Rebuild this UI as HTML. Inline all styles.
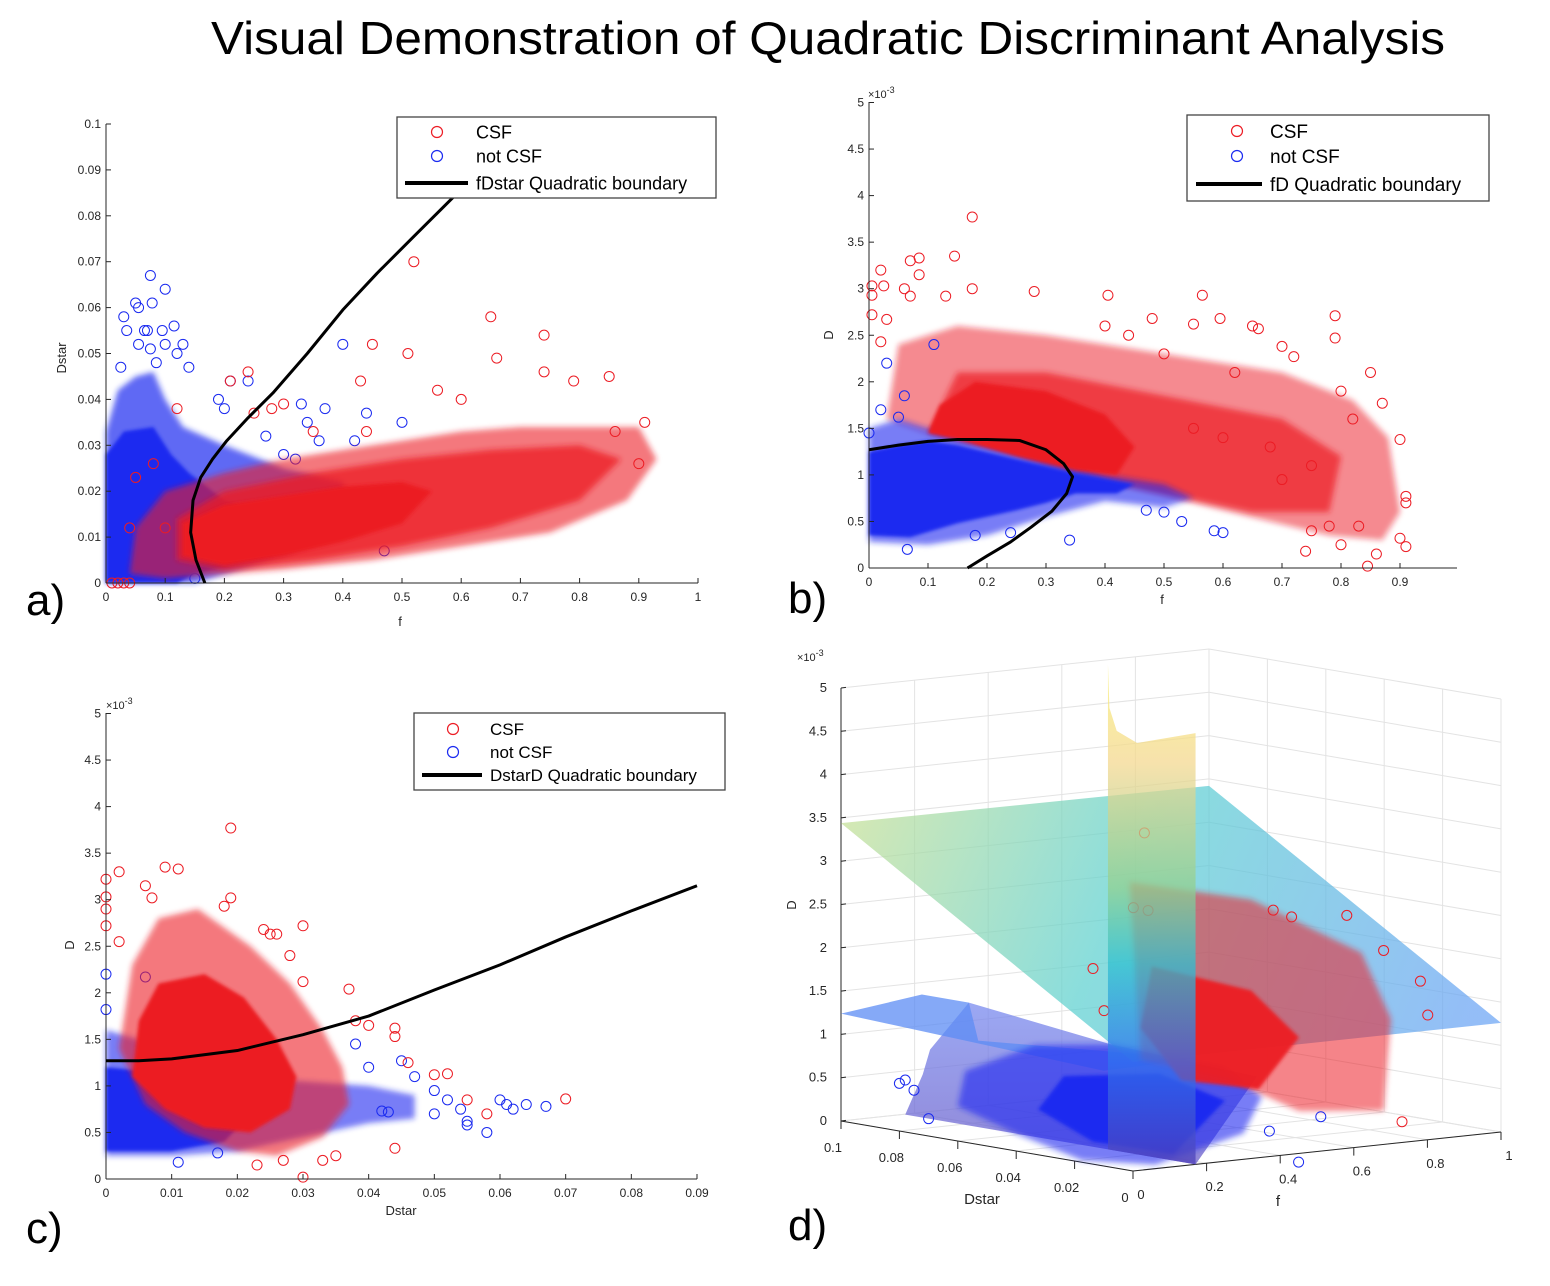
<!DOCTYPE html>
<html><head><meta charset="utf-8">
<style>
html,body{margin:0;padding:0;background:#fff;}
svg{display:block;font-family:"Liberation Sans",Arial,sans-serif;}
</style></head>
<body>
<svg id="fig" width="1550" height="1286" viewBox="0 0 1550 1286" xmlns="http://www.w3.org/2000/svg">
<defs>
<filter id="soft" x="-10%" y="-10%" width="120%" height="120%"><feGaussianBlur stdDeviation="3"/></filter>
<filter id="soft2" x="-10%" y="-10%" width="120%" height="120%"><feGaussianBlur stdDeviation="1.5"/></filter>
<linearGradient id="planeGrad" gradientUnits="userSpaceOnUse" x1="841" y1="800" x2="1450" y2="1060">
<stop offset="0" stop-color="#c8e094"/><stop offset="0.45" stop-color="#5cd0d0"/><stop offset="1" stop-color="#6aa4f4"/>
</linearGradient>
<linearGradient id="sheetGrad" gradientUnits="userSpaceOnUse" x1="0" y1="662" x2="0" y2="1165">
<stop offset="0" stop-color="#f8f070"/><stop offset="0.2" stop-color="#f4d890"/><stop offset="0.45" stop-color="#90d090"/><stop offset="0.6" stop-color="#30c0d0"/><stop offset="0.8" stop-color="#3070f0"/><stop offset="1" stop-color="#5040b8"/>
</linearGradient>
<linearGradient id="purpleGrad" gradientUnits="userSpaceOnUse" x1="0" y1="1000" x2="0" y2="1170">
<stop offset="0" stop-color="#7a8cf0"/><stop offset="1" stop-color="#6a5cc8"/>
</linearGradient>
</defs>
<text x="828" y="54" font-size="46" text-anchor="middle" textLength="1234" lengthAdjust="spacingAndGlyphs" fill="#000">Visual Demonstration of Quadratic Discriminant Analysis</text>
<text x="26" y="615" font-size="44" fill="#000">a)</text>
<text x="788" y="613" font-size="44" fill="#000">b)</text>
<text x="26" y="1243" font-size="44" fill="#000">c)</text>
<text x="788" y="1240" font-size="44" fill="#000">d)</text>
<g id="pa"></g>
<g id="pb"></g>
<g id="pc"></g>
<g id="pd"></g>
</svg>
<script>
// ---------------- Panel a data (f, Dstar) ----------------
const aXTicks = [0,0.1,0.2,0.3,0.4,0.5,0.6,0.7,0.8,0.9,1];
const aXTickLabels = ["0","0.1","0.2","0.3","0.4","0.5","0.6","0.7","0.8","0.9","1"];
const aYTicks = [0,0.01,0.02,0.03,0.04,0.05,0.06,0.07,0.08,0.09,0.1];
const aYTickLabels = ["0","0.01","0.02","0.03","0.04","0.05","0.06","0.07","0.08","0.09","0.1"];
const aBlueOuter = [[0,0],[0,0.033],[0.02,0.042],[0.05,0.045],[0.08,0.046],[0.1,0.04],[0.13,0.034],[0.2,0.03],[0.3,0.025],[0.4,0.022],[0.42,0.012],[0.3,0.006],[0.2,0.002],[0.15,0]];
const aBlueCore = [[0,0],[0,0.028],[0.03,0.033],[0.08,0.034],[0.11,0.028],[0.14,0.024],[0.2,0.018],[0.3,0.013],[0.28,0.006],[0.15,0.002],[0.12,0]];
const aRedOuter = [[0.04,0.002],[0.05,0.012],[0.1,0.02],[0.2,0.024],[0.3,0.027],[0.4,0.029],[0.5,0.031],[0.6,0.033],[0.7,0.034],[0.8,0.034],[0.9,0.034],[0.93,0.027],[0.88,0.018],[0.75,0.011],[0.6,0.008],[0.45,0.005],[0.3,0.003],[0.2,0.002],[0.1,0.001]];
const aRedMid = [[0.12,0.005],[0.12,0.014],[0.2,0.02],[0.35,0.024],[0.5,0.027],[0.65,0.029],[0.8,0.03],[0.87,0.027],[0.8,0.018],[0.65,0.012],[0.5,0.008],[0.35,0.005],[0.2,0.003]];
const aRedCore = [[0.13,0.006],[0.13,0.013],[0.2,0.017],[0.3,0.019],[0.4,0.021],[0.5,0.022],[0.55,0.02],[0.5,0.013],[0.4,0.009],[0.3,0.006],[0.2,0.004]];
const aBluePts = [[0.075,0.067],[0.1,0.064],[0.05,0.061],[0.078,0.061],[0.03,0.058],[0.055,0.06],[0.035,0.055],[0.065,0.055],[0.07,0.055],[0.095,0.055],[0.115,0.056],[0.055,0.052],[0.075,0.051],[0.1,0.052],[0.13,0.052],[0.12,0.05],[0.14,0.047],[0.025,0.047],[0.085,0.048],[0.4,0.052],[0.21,0.044],[0.24,0.044],[0.19,0.04],[0.2,0.038],[0.33,0.039],[0.37,0.038],[0.44,0.037],[0.5,0.035],[0.34,0.035],[0.36,0.031],[0.42,0.031],[0.27,0.032],[0.3,0.028],[0.32,0.027],[0.47,0.007],[0.15,0.001]];
const aRedPts = [[0.52,0.07],[0.65,0.058],[0.74,0.054],[0.45,0.052],[0.51,0.05],[0.66,0.049],[0.43,0.044],[0.74,0.046],[0.79,0.044],[0.85,0.045],[0.56,0.042],[0.6,0.04],[0.21,0.044],[0.24,0.046],[0.28,0.038],[0.3,0.039],[0.25,0.037],[0.35,0.033],[0.44,0.033],[0.91,0.035],[0.86,0.033],[0.9,0.026],[0.01,0],[0.02,0],[0.03,0],[0.04,0],[0.12,0.038],[0.08,0.026],[0.05,0.023],[0.1,0.012],[0.04,0.012]];
const aBoundary = [[0.167,0],[0.152,0.005],[0.143,0.011],[0.147,0.018],[0.16,0.023],[0.18,0.027],[0.204,0.031],[0.24,0.036],[0.282,0.0414],[0.34,0.05],[0.4,0.0595],[0.458,0.0675],[0.52,0.0755],[0.59,0.0845]];

// ---------------- Panel b data (f, D x1e-3) ----------------
const bXTicks = [0,0.1,0.2,0.3,0.4,0.5,0.6,0.7,0.8,0.9];
const bXTickLabels = ["0","0.1","0.2","0.3","0.4","0.5","0.6","0.7","0.8","0.9"];
const bYTicks = [0,0.5,1,1.5,2,2.5,3,3.5,4,4.5,5];
const bYTickLabels = ["0","0.5","1","1.5","2","2.5","3","3.5","4","4.5","5"];
const bBlueOuter = [[0,0.28],[0,1.5],[0.05,1.6],[0.1,1.5],[0.2,1.4],[0.3,1.2],[0.4,1.0],[0.5,0.9],[0.55,0.75],[0.5,0.65],[0.4,0.72],[0.3,0.55],[0.2,0.35],[0.1,0.25]];
const bBlueCore = [[0,0.35],[0,1.25],[0.05,1.32],[0.1,1.37],[0.15,1.32],[0.25,1.17],[0.35,1.02],[0.45,0.9],[0.42,0.8],[0.35,0.8],[0.3,0.7],[0.25,0.62],[0.15,0.48],[0.07,0.33]];
const bRedOuter = [[0.03,1.6],[0.05,2.4],[0.15,2.6],[0.3,2.5],[0.5,2.3],[0.7,2.1],[0.82,1.8],[0.88,1.4],[0.9,0.6],[0.87,0.3],[0.78,0.35],[0.68,0.5],[0.55,0.7],[0.45,0.85],[0.35,1.0],[0.25,1.2],[0.12,1.4]];
const bRedMid = [[0.1,1.45],[0.15,2.1],[0.3,2.1],[0.5,1.85],[0.7,1.6],[0.8,1.2],[0.78,0.6],[0.65,0.6],[0.5,0.8],[0.4,0.93],[0.3,1.1],[0.2,1.3]];
const bRedCore = [[0.1,1.45],[0.12,1.75],[0.18,2.0],[0.3,1.9],[0.4,1.65],[0.45,1.3],[0.42,1.0],[0.35,1.05],[0.25,1.2],[0.15,1.38]];
const bRedPts = [[0.175,3.77],[0.145,3.35],[0.07,3.3],[0.085,3.33],[0.02,3.2],[0.085,3.15],[0.005,3.03],[0.025,3.03],[0.005,2.93],[0.06,3.0],[0.175,3.0],[0.28,2.97],[0.405,2.93],[0.565,2.93],[0.07,2.92],[0.13,2.92],[0.79,2.71],[0.005,2.72],[0.03,2.67],[0.48,2.68],[0.595,2.68],[0.65,2.6],[0.66,2.57],[0.79,2.47],[0.02,2.43],[0.4,2.6],[0.44,2.5],[0.55,2.62],[0.7,2.38],[0.72,2.27],[0.85,2.1],[0.87,1.77],[0.9,1.38],[0.91,0.77],[0.91,0.7],[0.9,0.32],[0.91,0.23],[0.86,0.15],[0.845,0.02],[0.74,0.18],[0.8,0.25],[0.83,0.45],[0.75,0.4],[0.78,0.45],[0.82,1.6],[0.8,1.9],[0.62,2.1],[0.5,2.3],[0.6,1.4],[0.7,0.95],[0.75,1.1],[0.68,1.3],[0.55,1.5]];
const bBluePts = [[0.03,2.2],[0.11,2.4],[0.06,1.85],[0.02,1.7],[0.34,0.3],[0.18,0.35],[0.24,0.38],[0.585,0.4],[0.6,0.38],[0.53,0.5],[0.065,0.2],[0,1.45],[0.05,1.62],[0.47,0.62],[0.5,0.6]];
const bBoundary = [[0,1.27],[0.05,1.32],[0.1,1.36],[0.15,1.38],[0.2,1.38],[0.255,1.37],[0.3,1.27],[0.33,1.12],[0.345,0.98],[0.335,0.8],[0.31,0.61],[0.275,0.44],[0.24,0.28],[0.2,0.13],[0.167,0]];

// ---------------- Panel c data (Dstar, D x1e-3) ----------------
const cXTicks = [0,0.01,0.02,0.03,0.04,0.05,0.06,0.07,0.08,0.09];
const cXTickLabels = ["0","0.01","0.02","0.03","0.04","0.05","0.06","0.07","0.08","0.09"];
const cYTicks = [0,0.5,1,1.5,2,2.5,3,3.5,4,4.5,5];
const cYTickLabels = ["0","0.5","1","1.5","2","2.5","3","3.5","4","4.5","5"];
const cBlueOuter = [[0,0.25],[0,1.6],[0.005,1.5],[0.01,1.3],[0.02,1.1],[0.03,1.05],[0.04,1.0],[0.047,0.9],[0.047,0.65],[0.04,0.6],[0.03,0.45],[0.02,0.3],[0.01,0.25]];
const cBlueCore = [[0,0.3],[0,1.2],[0.012,1.12],[0.02,1.0],[0.022,0.7],[0.018,0.4],[0.01,0.3]];
const cRedOuter = [[0.002,1.4],[0.004,2.3],[0.008,2.8],[0.014,2.9],[0.022,2.5],[0.028,2.1],[0.033,1.6],[0.036,1.2],[0.037,0.8],[0.033,0.45],[0.026,0.25],[0.02,0.3],[0.012,0.5],[0.006,0.8]];
const cRedCore = [[0.004,1.1],[0.005,1.7],[0.008,2.1],[0.015,2.2],[0.021,1.95],[0.026,1.5],[0.029,1.1],[0.028,0.75],[0.022,0.5],[0.015,0.55],[0.009,0.75]];
const cRedPts = [[0.019,3.77],[0.009,3.35],[0.011,3.33],[0.002,3.3],[0,3.22],[0.006,3.15],[0,3.03],[0,2.9],[0,2.72],[0.007,3.02],[0.019,3.02],[0.018,2.93],[0.03,2.72],[0.024,2.68],[0.025,2.63],[0.026,2.63],[0.002,2.55],[0.028,2.4],[0.037,2.04],[0.03,2.12],[0.038,1.7],[0.04,1.65],[0.044,1.62],[0.044,1.53],[0.046,1.25],[0.05,1.12],[0.052,1.13],[0.055,0.85],[0.07,0.86],[0.058,0.7],[0.044,0.33],[0.03,0.02],[0.023,0.15],[0.035,0.25],[0.033,0.2],[0.027,0.2]];
const cBluePts = [[0,2.2],[0.006,2.17],[0,1.82],[0.045,1.27],[0.038,1.45],[0.05,0.95],[0.052,0.85],[0.054,0.75],[0.055,0.62],[0.055,0.58],[0.058,0.5],[0.06,0.85],[0.061,0.8],[0.062,0.75],[0.064,0.8],[0.067,0.78],[0.04,1.2],[0.047,1.1],[0.011,0.18],[0.017,0.28],[0.042,0.73],[0.043,0.72],[0.05,0.7]];
const cBoundary = [[0,1.27],[0.005,1.27],[0.01,1.29],[0.02,1.38],[0.03,1.55],[0.04,1.75],[0.05,2.03],[0.06,2.3],[0.07,2.6],[0.08,2.88],[0.09,3.15]];

// ---------------- Panel d data (Dstar, f, D x1e-3) ----------------
const dDTicks = [0,0.5,1,1.5,2,2.5,3,3.5,4,4.5,5];
const dDTickLabels = ["0","0.5","1","1.5","2","2.5","3","3.5","4","4.5","5"];
const dDstarTicks = [0,0.02,0.04,0.06,0.08,0.1];
const dDstarTickLabels = ["0","0.02","0.04","0.06","0.08","0.1"];
const dFTicks = [0,0.2,0.4,0.6,0.8,1];
const dFTickLabels = ["0","0.2","0.4","0.6","0.8","1"];
const dPlane = [[0.1,0,3.44],[0.1,1,3.42],[0,1,1.26],[0,0,1.26]];
const dSheet = [[0.03,0.17,0],[0.03,0.17,5.6],[0.0295,0.17,5.1],[0.027,0.17,4.85],[0.02,0.17,4.75],[0,0.17,4.98],[0,0.17,0]];
const dBlueSheet = [[0.1,0,1.24],[0.0723,0,1.62],[0.0562,0,1.62],[0.053,0,1.2],[0,0.17,1.22],[0.01,0,1.1]];
const dPurple = [[0.078,0,0.2],[0.072,0,0.7],[0.0695,0,1.0],[0.0562,0,1.62],[0.02,0.1,1.3],[0,0.337,0.94],[0,0.17,0]];
const dRedCloud = [[0.015,0.11,3.2],[0.015,0.44,2.85],[0.015,0.74,2.1],[0.015,0.82,1.3],[0.015,0.8,0.25],[0.015,0.57,0.35],[0.015,0.38,0.8],[0.015,0.14,1.13]];
const dRedCore = [[0.015,0.17,2.2],[0.015,0.44,1.8],[0.015,0.57,1.2],[0.015,0.46,0.65],[0.015,0.25,0.85],[0.015,0.14,1.5]];
const dBlueCloud = [[0.06,0.02,0.8],[0.04,0.05,1.2],[0.02,0.1,1.3],[0,0.25,1.1],[0,0.35,0.7],[0,0.3,0.3],[0.005,0.1,0],[0.02,0.02,0],[0.04,0,0.2],[0.06,0,0.4]];
const dBlueCore = [[0.03,0.05,0.9],[0.01,0.15,1.0],[0,0.25,0.7],[0.005,0.15,0.1],[0.02,0.05,0.2],[0.035,0.02,0.5]];
const dRedPts = [[0.015,0.15,3.75],[0.015,0.12,2.9],[0.015,0.16,2.85],[0.015,0.5,2.7],[0.015,0.55,2.6],[0.015,0.7,2.55],[0.015,0.8,2.1],[0.015,0.9,1.7],[0.015,0.92,1.3],[0.02,0.05,2.2],[0.02,0.08,1.7],[0.015,0.85,0.1]];
const dBluePts = [[0.08,0,0.55],[0.078,0,0.6],[0.075,0,0.5],[0.07,0,0.2],[0.01,0.45,0.2],[0.005,0.55,0.35],[0,0.45,-0.1]];

const NS = "http://www.w3.org/2000/svg";
function mk(parent, tag, attrs){
  const el = document.createElementNS(NS, tag);
  for (const k in attrs) el.setAttribute(k, attrs[k]);
  parent.appendChild(el);
  return el;
}
const RED = "#ec1c24", BLUE = "#1a2af0";

function drawPanel2D(g, cfg){
  const X = cfg.x, Y = cfg.y;
  const poly = (pts, fill, op, name, filt)=>{
    const p = mk(g,'polygon',{points:pts.map(d=>X(d[0])+','+Y(d[1])).join(' '),fill:fill,'fill-opacity':op,stroke:'none',filter:filt});
    
    
  };
  const pts = (arr, col, name)=>{
    arr.forEach(d=>{
      const c = mk(g,'circle',{cx:X(d[0]),cy:Y(d[1]),r:5,fill:'none',stroke:col,'stroke-width':1});
      
      
    });
  };
  cfg.layers.forEach(L=>{
    if (L.type==='poly') poly(L.data, L.color, L.op, L.name, L.op<1?'url(#soft)':'url(#soft2)');
    else pts(L.data, L.color, L.name);
  });
  const ax = mk(g,'line',{x1:cfg.x0px,y1:cfg.y0px,x2:cfg.xEndPx,y2:cfg.y0px,stroke:'#262626','stroke-width':1});
  
  
  const ay = mk(g,'line',{x1:cfg.x0px,y1:cfg.y0px,x2:cfg.x0px,y2:cfg.yEndPx,stroke:'#262626','stroke-width':1});
  
  
  cfg.xTicks.forEach((v,i)=>{
    const px = X(v);
    const t = mk(g,'line',{x1:px,y1:cfg.y0px,x2:px,y2:cfg.y0px-5,stroke:'#262626'});
    
    
    const l = mk(g,'text',{x:px,y:cfg.y0px+18,'font-size':12,'text-anchor':'middle',fill:'#262626'});
    l.textContent = cfg.xLabels[i];
    
    
  });
  cfg.yTicks.forEach((v,i)=>{
    const py = Y(v);
    const t = mk(g,'line',{x1:cfg.x0px,y1:py,x2:cfg.x0px+5,y2:py,stroke:'#262626'});
    
    
    const l = mk(g,'text',{x:cfg.x0px-5,y:py+4,'font-size':12,'text-anchor':'end',fill:'#262626'});
    l.textContent = cfg.yLabels[i];
    
    
  });
  const path = mk(g,'polyline',{points:cfg.boundary.map(d=>X(d[0])+','+Y(d[1])).join(' '),fill:'none',stroke:'#000','stroke-width':3,'stroke-linejoin':'round'});
  
  
}

function legend(g, L){
  const r = mk(g,'rect',{x:L.x,y:L.y,width:L.w,height:L.h,fill:'#fff',stroke:'#444','stroke-width':1.3});
  
  
  const c1 = mk(g,'circle',{cx:L.cx,cy:L.r1,r:5.5,fill:'none',stroke:RED,'stroke-width':1.2});
  
  
  const c2 = mk(g,'circle',{cx:L.cx,cy:L.r2,r:5.5,fill:'none',stroke:BLUE,'stroke-width':1.2});
  
  
  const ln = mk(g,'line',{x1:L.lx1,y1:L.r3,x2:L.lx2,y2:L.r3,stroke:'#000','stroke-width':4});
  
  
  const texts = ["CSF","not CSF",L.label];
  const rows = [L.r1,L.r2,L.r3];
  const names = ['legend-entry-csf','legend-entry-not-csf','legend-entry-boundary'];
  texts.forEach((t,i)=>{
    const e = mk(g,'text',{x:L.tx,y:rows[i]+L.fs*0.36,'font-size':L.fs,fill:'#000'});
    e.textContent = t;
    
    
  });
}
function label(g, txt, x, y, rot, name, fs){
  const e = mk(g,'text',{x:x,y:y,'font-size':fs||13,'text-anchor':'middle',fill:'#262626'});
  if (rot) e.setAttribute('transform','rotate(-90 '+x+' '+y+')');
  e.textContent = txt;
  
  
  return e;
}
function expo(g, x, y, name){
  const e = mk(g,'text',{x:x,y:y,'font-size':11,fill:'#262626'});
  e.innerHTML = '×10<tspan dy="-5" font-size="9">-3</tspan>';
  
  
}

// Panel a
const pa = document.getElementById('pa');
drawPanel2D(pa,{x:f=>106+f*592,y:v=>583-v*4590,x0px:106,y0px:583,xEndPx:698,yEndPx:124,
  xTicks:aXTicks,xLabels:aXTickLabels,yTicks:aYTicks,yLabels:aYTickLabels,boundary:aBoundary,
  layers:[{type:'poly',data:aBlueOuter,color:BLUE,op:0.7,name:'not-csf-cloud-outer'},
          {type:'poly',data:aBlueCore,color:BLUE,op:1,name:'not-csf-cloud-core'},
          {type:'pts',data:aBluePts,color:BLUE,name:'not-csf-point'},
          {type:'poly',data:aRedOuter,color:RED,op:0.6,name:'csf-cloud-outer'},
          {type:'poly',data:aRedMid,color:RED,op:0.75,name:'csf-cloud-mid'},
          {type:'poly',data:aRedCore,color:RED,op:1,name:'csf-cloud-core'},
          {type:'pts',data:aRedPts,color:RED,name:'csf-point'}]});
legend(pa,{x:397,y:117,w:319,h:81,cx:437,r1:132,r2:156,r3:183,lx1:405,lx2:468,tx:476,fs:18,label:'fDstar Quadratic boundary'});
label(pa,'Dstar',66,358,true,'y-axis-title');
label(pa,'f',400,626,false,'x-axis-title');

// Panel b
const pb = document.getElementById('pb');
drawPanel2D(pb,{x:f=>869+f*590,y:v=>568-v*93.1,x0px:869,y0px:568,xEndPx:1457,yEndPx:102,
  xTicks:bXTicks,xLabels:bXTickLabels,yTicks:bYTicks,yLabels:bYTickLabels,boundary:bBoundary,
  layers:[{type:'poly',data:bRedOuter,color:RED,op:0.5,name:'csf-cloud-outer'},
          {type:'poly',data:bRedMid,color:RED,op:0.7,name:'csf-cloud-mid'},
          {type:'pts',data:bRedPts,color:RED,name:'csf-point'},
          {type:'poly',data:bBlueOuter,color:BLUE,op:0.6,name:'not-csf-cloud-outer'},
          {type:'poly',data:bBlueCore,color:BLUE,op:1,name:'not-csf-cloud-core'},
          {type:'pts',data:bBluePts,color:BLUE,name:'not-csf-point'},
          {type:'poly',data:bRedCore,color:RED,op:1,name:'csf-cloud-core'}]});
legend(pb,{x:1187,y:115,w:302,h:86,cx:1237,r1:131,r2:156,r3:184,lx1:1196,lx2:1262,tx:1270,fs:19,label:'fD Quadratic boundary'});
label(pb,'D',833,335,true,'y-axis-title');
label(pb,'f',1162,604,false,'x-axis-title');
expo(pb,868,98,'y-axis-exponent');

// Panel c
const pc = document.getElementById('pc');
drawPanel2D(pc,{x:s=>106+s*6566.7,y:v=>1179-v*93.1,x0px:106,y0px:1179,xEndPx:697,yEndPx:713,
  xTicks:cXTicks,xLabels:cXTickLabels,yTicks:cYTicks,yLabels:cYTickLabels,boundary:cBoundary,
  layers:[{type:'poly',data:cBlueOuter,color:BLUE,op:0.6,name:'not-csf-cloud-outer'},
          {type:'poly',data:cBlueCore,color:BLUE,op:1,name:'not-csf-cloud-core'},
          {type:'pts',data:cBluePts,color:BLUE,name:'not-csf-point'},
          {type:'poly',data:cRedOuter,color:RED,op:0.6,name:'csf-cloud-outer'},
          {type:'poly',data:cRedCore,color:RED,op:1,name:'csf-cloud-core'},
          {type:'pts',data:cRedPts,color:RED,name:'csf-point'}]});
legend(pc,{x:414,y:713,w:311,h:77,cx:453,r1:729,r2:752,r3:775,lx1:422,lx2:482,tx:490,fs:17,label:'DstarD Quadratic boundary'});
label(pc,'D',74,945,true,'y-axis-title');
label(pc,'Dstar',401,1215,false,'x-axis-title');
expo(pc,106,709,'y-axis-exponent');

// Panel d (3D projection)
const pd = document.getElementById('pd');
function P(ds, f, D){ // Dstar, f, D(x1e-3)
  return [1133 + ds*(-2920) + f*368, 1171 + ds*(-500) + f*(-39) - D*86.6];
}
const ptsStr = arr => arr.map(d=>P(d[0],d[1],d[2]).join(',')).join(' ');
function gline(a,b,name){
  const e = mk(pd,'line',{x1:a[0],y1:a[1],x2:b[0],y2:b[1],stroke:'#e3e3e3','stroke-width':1});
  
  
}
dDTicks.forEach(v=>{ gline(P(0.1,0,v),P(0.1,1,v),'grid-line'); gline(P(0.1,1,v),P(0,1,v),'grid-line'); });
dFTicks.forEach(v=>{ gline(P(0.1,v,0),P(0.1,v,5),'grid-line'); gline(P(0.1,v,0),P(0,v,0),'grid-line'); });
dDstarTicks.forEach(v=>{ gline(P(v,1,0),P(v,1,5),'grid-line'); gline(P(v,0,0),P(v,1,0),'grid-line'); });
[[P(0.1,0,0),P(0.1,0,5),'d-axis-line'],[P(0.1,0,0),P(0,0,0),'dstar-axis-line'],[P(0,0,0),P(0,1,0),'f-axis-line']].forEach(a=>{
  const e = mk(pd,'line',{x1:a[0][0],y1:a[0][1],x2:a[1][0],y2:a[1][1],stroke:'#262626','stroke-width':1});
  
  
});
dDTicks.forEach((v,i)=>{
  const p = P(0.1,0,v);
  const t = mk(pd,'line',{x1:p[0],y1:p[1],x2:p[0]+5,y2:p[1]-0.6,stroke:'#262626'});
  
  
  const l = mk(pd,'text',{x:p[0]-14,y:p[1]+4,'font-size':13,'text-anchor':'end',fill:'#262626'});
  l.textContent = dDTickLabels[i];
  
  
});
dDstarTicks.forEach((v,i)=>{
  const p = P(v,0,0);
  const t = mk(pd,'line',{x1:p[0],y1:p[1],x2:p[0],y2:p[1]+8,stroke:'#262626'});
  
  
  const l = mk(pd,'text',{x:p[0]-8,y:p[1]+31,'font-size':13,'text-anchor':'middle',fill:'#262626'});
  l.textContent = dDstarTickLabels[i];
  
  
});
dFTicks.forEach((v,i)=>{
  const p = P(0,v,0);
  const t = mk(pd,'line',{x1:p[0],y1:p[1],x2:p[0],y2:p[1]+8,stroke:'#262626'});
  
  
  const l = mk(pd,'text',{x:p[0]+8,y:p[1]+28,'font-size':13,'text-anchor':'middle',fill:'#262626'});
  l.textContent = dFTickLabels[i];
  
  
});
label(pd,'Dstar',982,1204,false,'dstar-axis-title',15);
label(pd,'f',1278,1206,false,'f-axis-title',15);
label(pd,'D',796,905,true,'d-axis-title',13);
expo(pd,797,661,'d-axis-exponent');
function surf(arr, fill, op, name, filt){
  const e = mk(pd,'polygon',{points:ptsStr(arr),fill:fill,'fill-opacity':op,stroke:'none'});
  if (filt) e.setAttribute('filter',filt);
  
  
}
surf(dPurple,'url(#purpleGrad)',0.75,'boundary-surface-lower');
surf(dBlueSheet,'#5c8cf4',0.75,'boundary-surface-lip');
surf(dPlane,'url(#planeGrad)',0.72,'boundary-surface-plane');
surf(dBlueCloud,BLUE,0.6,'not-csf-cloud-outer','url(#soft)');
surf(dBlueCore,BLUE,1,'not-csf-cloud-core','url(#soft2)');
surf(dRedCloud,RED,0.55,'csf-cloud-outer','url(#soft)');
surf(dRedCore,RED,0.95,'csf-cloud-core','url(#soft2)');
dRedPts.forEach(d=>{
  const p = P(d[0],d[1],d[2]);
  const c = mk(pd,'circle',{cx:p[0],cy:p[1],r:5,fill:'none',stroke:RED,'stroke-width':1});
  
  
});
dBluePts.forEach(d=>{
  const p = P(d[0],d[1],d[2]);
  const c = mk(pd,'circle',{cx:p[0],cy:p[1],r:5,fill:'none',stroke:BLUE,'stroke-width':1});
  
  
});
surf(dSheet,'url(#sheetGrad)',0.75,'boundary-surface-vertical');
</script>
</body></html>
